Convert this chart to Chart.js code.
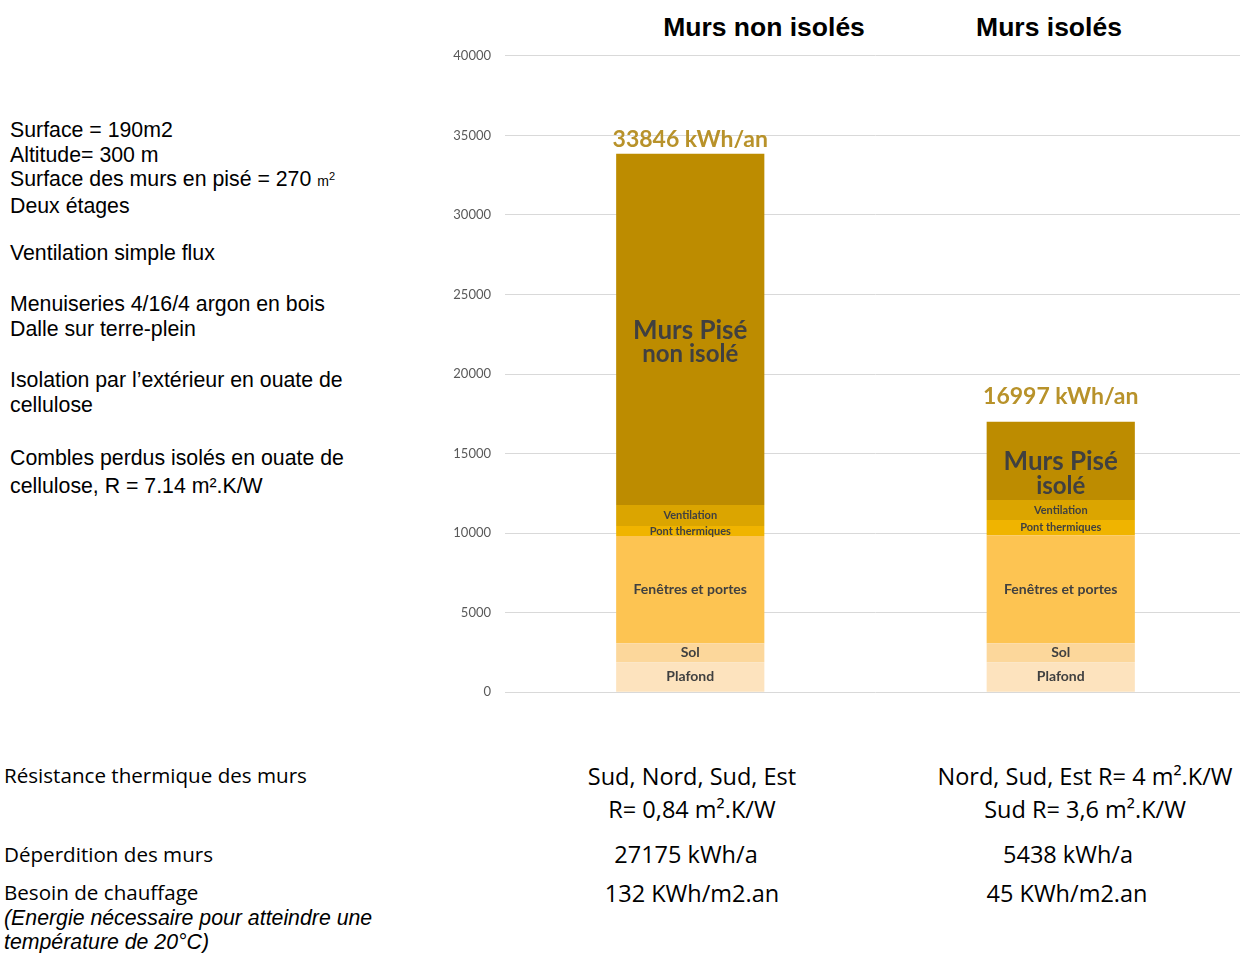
<!DOCTYPE html>
<html>
<head>
<meta charset="utf-8">
<script src="https://cdn.jsdelivr.net/npm/chart.js@4/dist/chart.umd.min.js"></script>
<style>
  html, body { margin: 0; padding: 0; background: #fff; overflow: hidden; }
  body { width: 1240px; height: 953px; position: relative; }
  #wrap { position: absolute; left: 440px; top: 34px; width: 806px; height: 680px; }
  .t { position: absolute; white-space: nowrap; color: #000; }
  .arial { font-family: "Liberation Sans", Arial, sans-serif; font-size: 21.3px; line-height: 24.7px; }
  .cal { font-family: "Open Sans", Lato, sans-serif; font-size: 20.6px; line-height: 26px; }
  .col { font-size: 23.5px; }
  .head { font-family: "Liberation Sans", Arial, sans-serif; font-weight: bold; font-size: 26.5px; line-height: 30px; transform: translateX(-50%); }
  .c { transform: translateX(-50%); }
  sup { font-size: 11px; line-height: 0; }
</style>
</head>
<body>
<div class="t head" style="left:764px; top:12px;">Murs non isolés</div>
<div class="t head" style="left:1049px; top:12px;">Murs isolés</div>

<div class="t arial" style="left:10px; top:118px;">Surface = 190m2<br>Altitude= 300 m<br>Surface des murs en pisé = 270 <span style="font-size:14px">m<sup>2</sup></span><br>Deux étages</div>
<div class="t arial" style="left:10px; top:241px;">Ventilation simple flux</div>
<div class="t arial" style="left:10px; top:292px;">Menuiseries 4/16/4 argon en bois<br>Dalle sur terre-plein</div>
<div class="t arial" style="left:10px; top:368px;">Isolation par l’extérieur en ouate de<br>cellulose</div>
<div class="t arial" style="left:10px; top:444px; line-height:28px;">Combles perdus isolés en ouate de<br>cellulose, R = 7.14 m².K/W</div>

<div class="t cal" style="left:4px; top:762px;">Résistance thermique des murs</div>
<div class="t cal" style="left:4px; top:841px;">Déperdition des murs</div>
<div class="t cal" style="left:4px; top:879px;">Besoin de chauffage</div>
<div class="t arial" style="left:4px; top:906px; font-style:italic; line-height:24px;">(Energie nécessaire pour atteindre une<br>température de 20°C)</div>

<div class="t cal col c" style="left:692px; top:763px;">Sud, Nord, Sud, Est</div>
<div class="t cal col c" style="left:692px; top:796px;">R= 0,84 m².K/W</div>
<div class="t cal col c" style="left:686px; top:841px;">27175 kWh/a</div>
<div class="t cal col c" style="left:692px; top:880px;">132 KWh/m2.an</div>

<div class="t cal col c" style="left:1085px; top:763px;">Nord, Sud, Est R= 4 m².K/W</div>
<div class="t cal col c" style="left:1085px; top:796px;">Sud R= 3,6 m².K/W</div>
<div class="t cal col c" style="left:1068px; top:841px;">5438 kWh/a</div>
<div class="t cal col c" style="left:1067px; top:880px;">45 KWh/m2.an</div>

<div id="wrap"><canvas id="chart" width="806" height="680"></canvas></div>

<script>
const categories = ["Murs non isolés", "Murs isolés"];
const plafond = [1890, 1890];
const sol = [1190, 1190];
const fenetres = [6740, 6790];
const pontThermiques = [620, 950];
const ventilation = [1320, 1255];
const mursPise = [22086, 4922];
const totalLabels = ["33846 kWh/an", "16997 kWh/an"];
const mursLabels = [["Murs Pisé", "non isolé"], ["Murs Pisé", "isolé"]];
const yTicks = [0, 5000, 10000, 15000, 20000, 25000, 30000, 35000, 40000];

const series = [
  { label: "Plafond", data: plafond, color: "#FDE3BE", font: 14 },
  { label: "Sol", data: sol, color: "#FCD79B", font: 14 },
  { label: "Fenêtres et portes", data: fenetres, color: "#FDC452", font: 14 },
  { label: "Pont thermiques", data: pontThermiques, color: "#F0B400", font: 11 },
  { label: "Ventilation", data: ventilation, color: "#DBA500", font: 11 },
  { label: "Murs Pisé", data: mursPise, color: "#BD8C00", font: 0 },
];

const totalGap = [14, 25];

const labelPlugin = {
  id: "segLabels",
  afterDatasetsDraw(chart) {
    const ctx = chart.ctx;
    ctx.save();
    ctx.textAlign = "center";
    ctx.textBaseline = "middle";
    chart.data.datasets.forEach((ds, i) => {
      const meta = chart.getDatasetMeta(i);
      meta.data.forEach((bar, j) => {
        const mid = (bar.y + bar.base) / 2;
        ctx.fillStyle = "#404040";
        if (series[i].font) {
          ctx.font = `bold ${series[i].font}px Lato, "Open Sans", sans-serif`;
          ctx.fillText(ds.label, bar.x, mid);
        } else {
          const lines = mursLabels[j];
          ctx.font = 'bold 26px Lato, "Open Sans", sans-serif';
          ctx.fillText(lines[0], bar.x, mid + 1);
          ctx.font = 'bold 24px Lato, "Open Sans", sans-serif';
          ctx.fillText(lines[1], bar.x, mid + 25);
          ctx.fillStyle = "#B8922A";
          ctx.font = 'bold 23px Lato, "Open Sans", sans-serif';
          ctx.fillText(totalLabels[j], bar.x, bar.y - totalGap[j]);
        }
      });
    });
    ctx.restore();
  },
};

new Chart(document.getElementById("chart"), {
  type: "bar",
  data: {
    labels: categories,
    datasets: series.map((s) => ({
      label: s.label,
      data: s.data,
      backgroundColor: s.color,
      borderWidth: 0,
      barPercentage: 0.4,
      categoryPercentage: 1,
    })),
  },
  options: {
    responsive: false,
    animation: false,
    layout: { padding: { top: 11, bottom: 9, left: 0, right: 0 } },
    plugins: { legend: { display: false }, tooltip: { enabled: false } },
    scales: {
      x: { stacked: true, display: false },
      y: {
        stacked: true,
        min: 0,
        max: 40000,
        afterFit: (scale) => { scale.width = 65; },
        afterBuildTicks: (scale) => { scale.ticks = yTicks.map((v) => ({ value: v })); },
        ticks: {
          color: "#595959",
          padding: 14,
          font: { family: "Lato, 'Open Sans', sans-serif", size: 13 },
          callback: (v) => String(v),
        },
        grid: { color: "#D9D9D9", drawTicks: false },
        border: { display: false },
      },
    },
  },
  plugins: [labelPlugin],
});
</script>
</body>
</html>
